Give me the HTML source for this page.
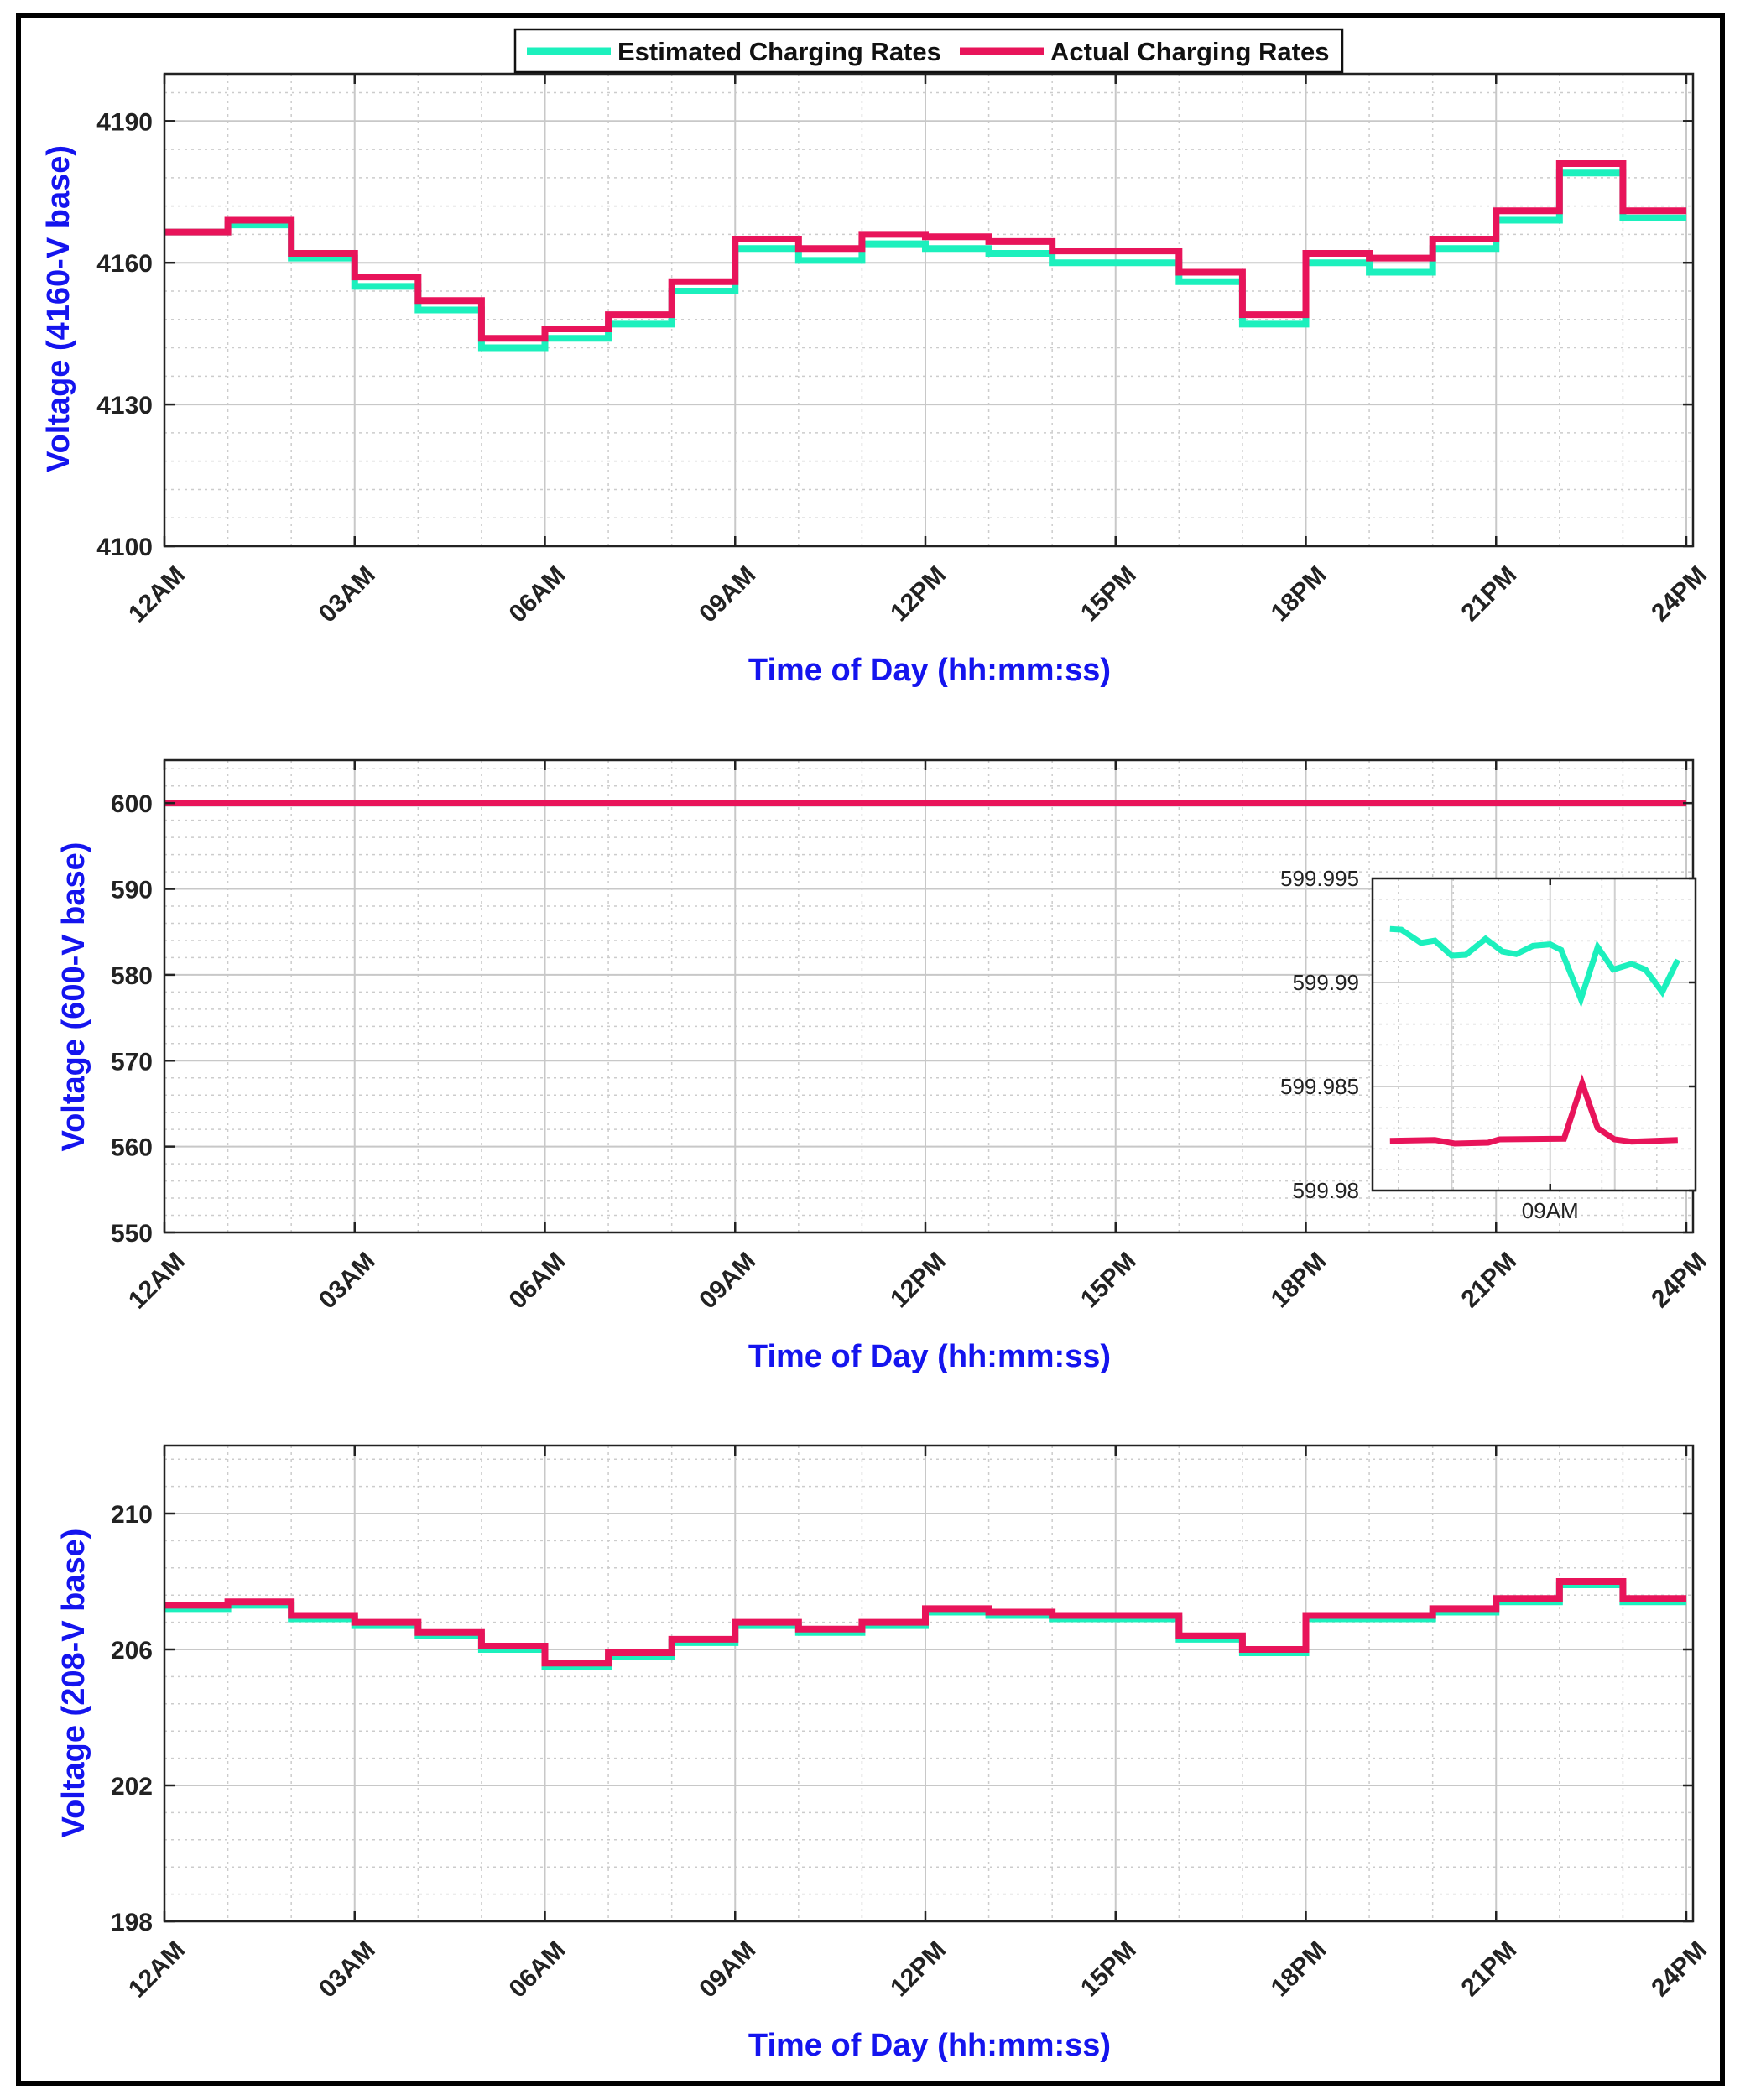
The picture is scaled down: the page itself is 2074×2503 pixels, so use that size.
<!DOCTYPE html>
<html><head><meta charset="utf-8"><style>
html,body{margin:0;padding:0;background:#fff;}
svg{display:block;font-family:"Liberation Sans",Arial,sans-serif;}
</style></head><body>
<svg id="fig" width="2074" height="2503" viewBox="0 0 2074 2503" xmlns="http://www.w3.org/2000/svg">
<rect x="22" y="19" width="2031" height="2464" fill="#fff" stroke="#000" stroke-width="6"/>
</svg>
<script>
// ---- data ----
const hourTicks = [0,3,6,9,12,15,18,21,24];
const hourLabels = ["12AM","03AM","06AM","09AM","12PM","15PM","18PM","21PM","24PM"];
const stepHours = [0,1,2,3,4,5,6,7,8,9,10,11,12,13,14,15,16,17,18,19,20,21,22,23];
const mvActual = [4166.5,4169,4162,4157,4152,4144,4146,4149,4156,4165,4163,4166,4165.5,4164.5,4162.5,4162.5,4158,4149,4162,4161,4165,4171,4181,4171];
const mvEstimated = [4166.5,4168,4161,4155,4150,4142,4144,4147,4154,4163,4160.5,4164,4163,4162,4160,4160,4156,4147,4160,4158,4163,4169,4179,4169.5];
const mvTicks = [4100,4130,4160,4190];
const lvActual = [600,600,600,600,600,600,600,600,600,600,600,600,600,600,600,600,600,600,600,600,600,600,600,600];
const lvEstimated = [600,600,600,600,600,600,600,600,600,600,600,600,600,600,600,600,600,600,600,600,600,600,600,600];
const lvTicks = [550,560,570,580,590,600];
const svActual = [207.3,207.4,207.0,206.8,206.5,206.1,205.6,205.9,206.3,206.8,206.6,206.8,207.2,207.1,207.0,207.0,206.4,206.0,207.0,207.0,207.2,207.5,208.0,207.5];
const svEstimated = [207.2,207.3,206.9,206.7,206.4,206.0,205.5,205.8,206.2,206.7,206.5,206.7,207.1,207.0,206.9,206.9,206.3,205.9,206.9,206.9,207.1,207.4,207.9,207.4];
const svTicks = [198,202,206,210];
const insetEstT = [5.4,8.9,15,19.3,24.5,28.9,35,40.2,44.5,49.7,55,58.4,64.5,69.7,74.5,80.2,84.5,89.7,94.5];
const insetEstV = [599.99257,599.99254,599.9919,599.99201,599.99129,599.99133,599.9921,599.99149,599.99136,599.99176,599.99183,599.99156,599.9892,599.9917,599.99062,599.99089,599.99062,599.98954,599.99109];
const insetActT = [5.4,19.3,25.4,35.8,39.3,59.3,64.9,69.7,74.9,80.2,94.5];
const insetActV = [599.98239,599.98243,599.98226,599.9823,599.98246,599.98249,599.98515,599.983,599.98246,599.98235,599.98243];
const insetTicks = [599.98,599.985,599.99,599.995];
const insetTickLabels = ["599.98","599.985","599.99","599.995"];

const NS="http://www.w3.org/2000/svg";
const svg=document.getElementById('fig');
const GREEN="#1cf0bd", RED="#e8145a";
function mk(tag,attrs,parent){const e=document.createElementNS(NS,tag);for(const k in attrs)e.setAttribute(k,attrs[k]);(parent||svg).appendChild(e);return e;}

function panel(o){
  const g=mk('g',{});
  
  
  const X=h=>o.L+(h/24)*(o.R2-o.L);
  const Y=v=>o.B-(v-o.ymin)/(o.ymax-o.ymin)*(o.B-o.T);
  for(let h=1;h<24;h++){ if(h%3) mk('line',{x1:X(h),x2:X(h),y1:o.T,y2:o.B,stroke:'#ccc','stroke-width':1.5,'stroke-dasharray':'3,5'},g); }
  const st=(o.ticks[1]-o.ticks[0])/5;
  for(let v=o.ticks[0];v<o.ymax+1e-9;v+=st){ const y=Y(v); if(y>o.T&&y<o.B) mk('line',{x1:o.L,x2:o.R,y1:y,y2:y,stroke:'#ccc','stroke-width':1.5,'stroke-dasharray':'3,5'},g);}
  hourTicks.forEach(h=>mk('line',{x1:X(h),x2:X(h),y1:o.T,y2:o.B,stroke:'#c8c8c8','stroke-width':2},g));
  o.ticks.forEach(v=>mk('line',{x1:o.L,x2:o.R,y1:Y(v),y2:Y(v),stroke:'#c8c8c8','stroke-width':2},g));
  function step(vals){let d='';stepHours.forEach((h,i)=>{d+=(i?'L':'M')+X(h)+','+Y(vals[i])+'L'+X(i<stepHours.length-1?stepHours[i+1]:24)+','+Y(vals[i]);});return d;}
  const pe=mk('path',{d:step(o.est),fill:'none',stroke:GREEN,'stroke-width':8},g);
  
  
  const pa=mk('path',{d:step(o.act),fill:'none',stroke:RED,'stroke-width':8},g);
  
  
  mk('rect',{x:o.L,y:o.T,width:o.R-o.L,height:o.B-o.T,fill:'none',stroke:'#222','stroke-width':2.5},g);
  hourTicks.forEach((h,i)=>{
    mk('line',{x1:X(h),x2:X(h),y1:o.B,y2:o.B-12,stroke:'#222','stroke-width':2.5},g);
    mk('line',{x1:X(h),x2:X(h),y1:o.T,y2:o.T+12,stroke:'#222','stroke-width':2.5},g);
    const ax=X(h)+26, ay=o.B+36;
    const t=mk('text',{x:ax,y:ay,'font-size':30,'font-weight':'bold',fill:'#222','text-anchor':'end',transform:`rotate(-45 ${ax} ${ay})`},g);
    t.textContent=hourLabels[i];
    
    
  });
  o.ticks.forEach(v=>{
    mk('line',{x1:o.L,x2:o.L+12,y1:Y(v),y2:Y(v),stroke:'#222','stroke-width':2.5},g);
    mk('line',{x1:o.R,x2:o.R-12,y1:Y(v),y2:Y(v),stroke:'#222','stroke-width':2.5},g);
    const t=mk('text',{x:o.L-14,y:Y(v)+11,'font-size':30,'font-weight':'bold',fill:'#222','text-anchor':'end'},g);
    t.textContent=v;
    
    
  });
  const yl=mk('text',{x:0,y:0,'font-size':38,'font-weight':'bold',fill:'#1414ee','text-anchor':'middle',transform:`translate(${o.ylx} ${o.ylc}) rotate(-90)`},g);
  yl.textContent=o.ylabel;
  
  
  const xl=mk('text',{x:1108,y:o.B+160,'font-size':38,'font-weight':'bold',fill:'#1414ee','text-anchor':'middle'},g);
  xl.textContent='Time of Day (hh:mm:ss)';
  
  
}
panel({name:'mv-panel',L:196,R:2018,R2:2010,T:88,B:651,ymin:4100,ymax:4200,ticks:mvTicks,act:mvActual,est:mvEstimated,ylabel:'Voltage (4160-V base)',ylx:82,ylc:368});
panel({name:'lv600-panel',L:196,R:2018,R2:2010,T:906,B:1469,ymin:550,ymax:605,ticks:lvTicks,act:lvActual,est:lvEstimated,ylabel:'Voltage (600-V base)',ylx:100,ylc:1188});
panel({name:'lv208-panel',L:196,R:2018,R2:2010,T:1723,B:2290,ymin:198,ymax:212,ticks:svTicks,act:svActual,est:svEstimated,ylabel:'Voltage (208-V base)',ylx:100,ylc:2006});

(function(){
  const L=1636,R=2021,T=1047,B=1419,ymin=599.98,ymax=599.995;
  const g=mk('g',{});
  
  
  const X=t=>L+t/100*(R-L);
  const Y=v=>B-(v-ymin)/(ymax-ymin)*(B-T);
  mk('rect',{x:L,y:T,width:R-L,height:B-T,fill:'#fff'},g);
  for(let v=ymin;v<ymax;v+=0.001){mk('line',{x1:L,x2:R,y1:Y(v),y2:Y(v),stroke:'#ccc','stroke-width':1.5,'stroke-dasharray':'3,5'},g);}
  [8,25,39,71,88].forEach(t=>mk('line',{x1:X(t),x2:X(t),y1:T,y2:B,stroke:'#ccc','stroke-width':1.5,'stroke-dasharray':'3,5'},g));
  [24.5,55,75].forEach(t=>mk('line',{x1:X(t),x2:X(t),y1:T,y2:B,stroke:'#d0d0d0','stroke-width':2},g));
  insetTicks.forEach(v=>mk('line',{x1:L,x2:R,y1:Y(v),y2:Y(v),stroke:'#d0d0d0','stroke-width':2},g));
  const pe=mk('polyline',{points:insetEstT.map((t,i)=>X(t)+','+Y(insetEstV[i])).join(' '),fill:'none',stroke:GREEN,'stroke-width':7},g);
  
  
  const pa=mk('polyline',{points:insetActT.map((t,i)=>X(t)+','+Y(insetActV[i])).join(' '),fill:'none',stroke:RED,'stroke-width':7},g);
  
  
  mk('rect',{x:L,y:T,width:R-L,height:B-T,fill:'none',stroke:'#222','stroke-width':2.5},g);
  insetTicks.forEach((v,i)=>{
    mk('line',{x1:R,x2:R-8,y1:Y(v),y2:Y(v),stroke:'#222','stroke-width':2.5},g);
    const t=mk('text',{x:L-16,y:Y(v)+9,'font-size':26,fill:'#222','text-anchor':'end'},g);
    t.textContent=insetTickLabels[i];
    
    
  });
  mk('line',{x1:X(55),x2:X(55),y1:B,y2:B-8,stroke:'#222','stroke-width':2.5},g);
  mk('line',{x1:X(55),x2:X(55),y1:T,y2:T+8,stroke:'#222','stroke-width':2.5},g);
  const t=mk('text',{x:X(55),y:B+33,'font-size':26,fill:'#222','text-anchor':'middle'},g);
  t.textContent='09AM';
  
  
})();

(function(){
  const g=mk('g',{});
  
  
  mk('rect',{x:614,y:35,width:986,height:51,fill:'#fff',stroke:'#111','stroke-width':2.5},g);
  mk('line',{x1:628,x2:728,y1:61,y2:61,stroke:GREEN,'stroke-width':9},g);
  const t1=mk('text',{x:736,y:72,'font-size':31,'font-weight':'bold',fill:'#111'},g);
  t1.textContent='Estimated Charging Rates';
  
  
  mk('line',{x1:1144,x2:1244,y1:61,y2:61,stroke:RED,'stroke-width':9},g);
  const t2=mk('text',{x:1252,y:72,'font-size':31,'font-weight':'bold',fill:'#111'},g);
  t2.textContent='Actual Charging Rates';
  
  
})();
</script>
</body></html>
